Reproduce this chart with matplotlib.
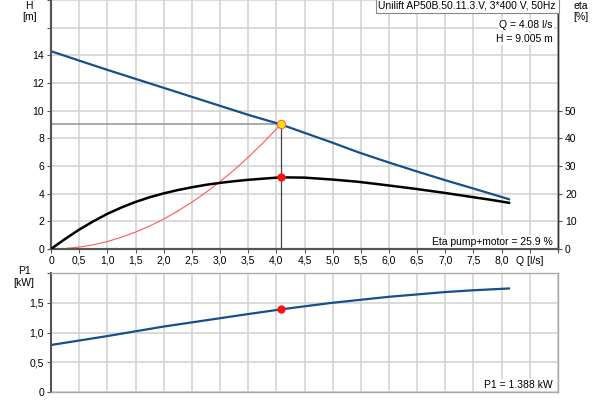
import matplotlib.pyplot as plt
import numpy as np

plt.rcParams['font.family'] = ['Liberation Sans', 'DejaVu Sans']
plt.rcParams['font.size'] = 7.5

# pump curve H(Q)
q_h = [0, 0.5, 1, 1.5, 2, 2.5, 3, 3.5, 4.08, 4.5, 5.0, 5.45, 6.0, 6.5, 7.0, 7.5, 8.13]
h = [14.3, 13.62, 12.95, 12.3, 11.65, 11.0, 10.35, 9.7, 9.005, 8.4, 7.68, 7.0, 6.25, 5.6, 4.97, 4.37, 3.6]

# efficiency eta(Q) in %
q_eta = [0, 0.15, 0.3, 0.5, 0.75, 1.0, 1.25, 1.5, 1.75, 2.0, 2.25, 2.5, 2.75, 3.0, 3.25, 3.5,
         3.75, 4.08, 4.5, 5.0, 5.45, 5.86, 6.45, 6.98, 7.44, 7.8, 8.13]
eta = [0, 2.2, 4.3, 7.0, 10.0, 12.7, 15.0, 17.0, 18.7, 20.1, 21.3, 22.3, 23.2, 23.9, 24.5, 25.0,
       25.4, 25.9, 25.8, 25.1, 24.3, 23.3, 21.8, 20.3, 18.9, 17.8, 16.7]

# system curve
q_sys = [0, 0.25, 0.5, 0.75, 1.0, 1.25, 1.5, 1.75, 2.0, 2.25, 2.5, 2.75, 3.0, 3.25, 3.5, 3.75, 4.08]
h_sys = [0, 0.034, 0.14, 0.30, 0.54, 0.85, 1.22, 1.66, 2.16, 2.74, 3.38, 4.09, 4.87, 5.71, 6.63, 7.61, 9.005]

# power P1(Q)
q_p = [0, 0.5, 1, 1.5, 2, 2.5, 3, 3.5, 4.08, 4.5, 5, 5.5, 6, 6.5, 7, 7.5, 8.13]
p1 = [0.79, 0.865, 0.94, 1.02, 1.10, 1.17, 1.24, 1.31, 1.388, 1.44, 1.50, 1.55, 1.60, 1.64, 1.68, 1.71, 1.74]

q_op = 4.08
h_op = 9.005
eta_op = 25.9
p1_op = 1.388

x_labels = ['0', '0,5', '1,0', '1,5', '2,0', '2,5', '3,0', '3,5', '4,0', '4,5',
            '5,0', '5,5', '6,0', '6,5', '7,0', '7,5', '8,0', 'Q [l/s]', '']

blue = '#174f8c'
grid_c = '#d4d4d4'

fig = plt.figure(figsize=(6, 4), dpi=100)
ax = fig.add_axes([0.085, 0.3775, 0.845, 0.6225])
ax2 = ax.twinx()
axp = fig.add_axes([0.085, 0.02, 0.845, 0.2975])

# top chart
ax.set_xlim(0, 8.95)
ax.set_ylim(0, 18)
ax2.set_ylim(0, 90)
ax.set_xticks(np.arange(0, 9.01, 0.5))
ax.set_xticklabels(x_labels)
ax.set_yticks(np.arange(0, 18.1, 2))
ax.set_yticklabels(['0', '2', '4', '6', '8', '10', '12', '14', '', ''])
ax2.set_yticks([0, 10, 20, 30, 40, 50])
ax.grid(True, color=grid_c, lw=1.2)
ax.set_axisbelow(True)

ax.plot(q_sys, h_sys, color='#ff5a5a', lw=0.8, zorder=3)
ax.plot(q_h, h, color=blue, lw=1.6, zorder=4)
ax2.plot(q_eta, eta, color='black', lw=1.8, zorder=4)
ax.plot([0, q_op], [h_op, h_op], color='#999999', lw=1.2, zorder=3)
ax.plot([q_op, q_op], [0, h_op], color='#444444', lw=0.9, zorder=3)
ax.plot(q_op, h_op, 'o', color='#ffe000', mec='#ff6060', mew=0.8, ms=6, zorder=6)
ax2.plot(q_op, eta_op, 'o', color='#ff1010', ms=5, zorder=6)

for a in (ax, ax2):
    a.spines['top'].set_visible(False)
    a.spines['left'].set_color('#555555')
    a.spines['left'].set_linewidth(1.5)
    a.spines['bottom'].set_color('#555555')
    a.spines['bottom'].set_linewidth(1.5)
    a.spines['right'].set_color('#333333')
    a.spines['right'].set_linewidth(1.0)
ax.tick_params(length=3, width=0.8, color='#555555', pad=2)
ax2.tick_params(length=3, width=0.8, color='#555555', pad=2)

ax.text(-0.043, 0.975, 'H', transform=ax.transAxes, ha='center', va='center')
ax.text(-0.043, 0.93, '[m]', transform=ax.transAxes, ha='center', va='center')
ax2.text(1.045, 0.975, 'eta', transform=ax.transAxes, ha='center', va='center')
ax2.text(1.045, 0.93, '[%]', transform=ax.transAxes, ha='center', va='center')

ax2.text(0.996, 0.997, 'Unilift AP50B.50.11.3.V, 3*400 V, 50Hz', transform=ax.transAxes,
         ha='right', va='top',
         bbox=dict(boxstyle='square,pad=0.25', fc='white', ec='#888888', lw=0.8), zorder=10)
ax2.text(0.99, 0.90, 'Q = 4.08 l/s', transform=ax.transAxes, ha='right', va='center',
         bbox=dict(boxstyle='square,pad=0.1', fc='white', ec='none'), zorder=10)
ax2.text(0.99, 0.843, 'H = 9.005 m', transform=ax.transAxes, ha='right', va='center',
         bbox=dict(boxstyle='square,pad=0.1', fc='white', ec='none'), zorder=10)
ax2.text(0.99, 0.03, 'Eta pump+motor = 25.9 %', transform=ax.transAxes, ha='right', va='center',
         bbox=dict(boxstyle='square,pad=0.1', fc='white', ec='none'), zorder=10)

# bottom chart
axp.set_xlim(0, 8.95)
axp.set_ylim(0, 2)
axp.set_xticks(np.arange(0, 9.01, 0.5))
axp.set_xticklabels([])
axp.set_yticks([0, 0.5, 1.0, 1.5, 2.0])
axp.set_yticklabels(['0', '0,5', '1,0', '1,5', ''])
axp.grid(True, color=grid_c, lw=1.2)
axp.set_axisbelow(True)
axp.plot(q_p, p1, color=blue, lw=1.6, zorder=4)
axp.plot(q_op, p1_op, 'o', color='#ff1010', ms=5, zorder=6)
axp.spines['left'].set_color('#555555')
axp.spines['left'].set_linewidth(1.5)
for s in ('top', 'right', 'bottom'):
    axp.spines[s].set_color('#aaaaaa')
    axp.spines[s].set_linewidth(1.0)
axp.tick_params(axis='y', length=3, width=0.8, color='#555555', pad=2)
axp.tick_params(axis='x', length=0)

axp.text(-0.053, 1.02, 'P1', transform=axp.transAxes, ha='center', va='center')
axp.text(-0.053, 0.915, '[kW]', transform=axp.transAxes, ha='center', va='center')
axp.text(0.99, 0.06, 'P1 = 1.388 kW', transform=axp.transAxes, ha='right', va='center',
         bbox=dict(boxstyle='square,pad=0.1', fc='white', ec='none'), zorder=10)

fig.savefig('out.png', dpi=100)
